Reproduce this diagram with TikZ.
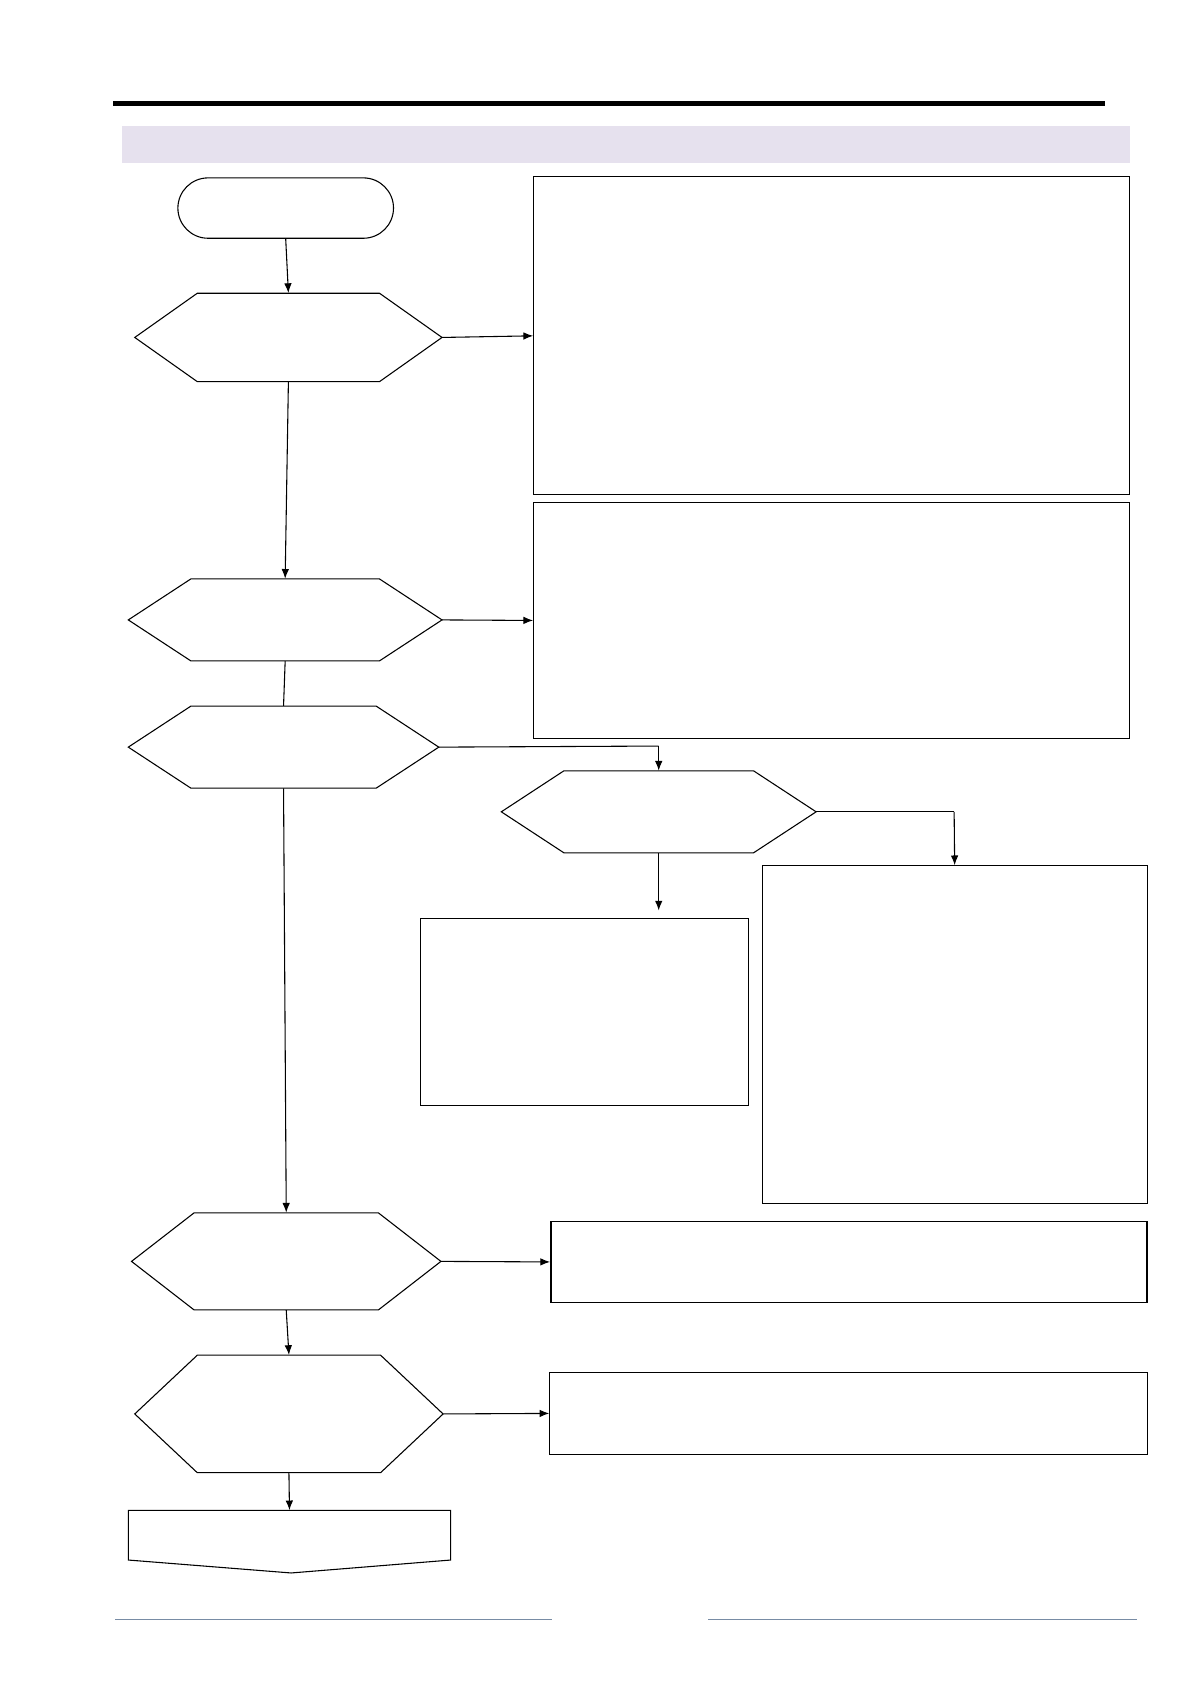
\documentclass[tikz,border=0pt]{standalone}
\usetikzlibrary{calc,arrows.meta}
\begin{document}
\begin{tikzpicture}[x=1pt,y=-1pt,
  box/.style={draw,line width=1pt,rectangle,inner sep=0pt},
  hx/.style={draw=none,rectangle,inner sep=0pt},
  arr/.style={line width=1pt,-{Latex[length=9pt,width=7pt]}},
  ln/.style={line width=1pt}]
\useasboundingbox (0,0) rectangle (1104,1562);
\draw[line width=4pt] (105,96) -- (1025,96);
\fill[fill={rgb,255:red,230;green,225;blue,238}] (113,117) rectangle (1048,151);
\node[box,rounded corners=28pt,minimum width=200pt,minimum height=56pt] (start) at (265,193) {};
% hexagon macro
\newcommand{\hexat}[6]{% name, x1, x2, y1, y2, chamfer
  \node[hx,minimum width=#3-#2,minimum height=#5-#4] (#1) at ({(#2+#3)/2},{(#4+#5)/2}) {};
  \draw[ln] (#2,{(#4+#5)/2}) -- ({#2+#6},#4) -- ({#3-#6},#4) -- (#3,{(#4+#5)/2}) -- ({#3-#6},#5) -- ({#2+#6},#5) -- cycle;}
\hexat{h1}{125}{410}{272}{354}{58}
\hexat{h2}{119}{410}{537}{613}{58}
\hexat{h3}{119}{407}{655}{731}{58}
\hexat{h4}{465}{757}{715}{791}{58}
\hexat{h5}{122}{409}{1125}{1215}{58}
\hexat{h6}{125}{411}{1257}{1366}{58}
\node[box,minimum width=553pt,minimum height=295pt] (ba) at (771.5,311.5) {};
\node[box,minimum width=553pt,minimum height=219pt] (bb) at (771.5,575.5) {};
\node[box,minimum width=304pt,minimum height=173pt] (bc) at (542,938.5) {};
\node[box,minimum width=357pt,minimum height=313pt] (bd) at (885.5,959.5) {};
\node[box,line width=1.6pt,minimum width=553pt,minimum height=75pt] (be) at (787.5,1170.5) {};
\node[box,minimum width=554pt,minimum height=76pt] (bf) at (787,1311) {};
\node[hx,minimum width=299pt,minimum height=58pt] (fin) at (268.5,1430) {};
\draw[ln] (119,1401) -- (418,1401) -- (418,1447) -- (270,1459) -- (119,1447) -- cycle;
\coordinate (c1) at (611,692);
\coordinate (c2) at (885,753);
\draw[arr] (start.south) -- (h1.north);
\draw[arr] (h1.east) -- (ba.west);
\draw[arr] (h1.south) -- (h2.north);
\draw[arr] (h2.east) -- (bb.west);
\draw[ln] (h2.south) -- (h3.north);
\draw[ln] (h3.east) -- (c1);
\draw[arr] (c1) -- (h4.north);
\draw[arr] (h4.south) -- ($(bc.north)+(69,-7)$);
\draw[ln] (h4.east) -- (c2);
\draw[arr] (c2) -- (bd.north);
\draw[arr] (h3.south) -- (h5.north);
\draw[arr] (h5.east) -- (be.west);
\draw[arr] (h5.south) -- (h6.north);
\draw[arr] (h6.east) -- (bf.west);
\draw[arr] (h6.south) -- (fin.north);
\draw[line width=0.6pt,color={rgb,255:red,120;green,140;blue,165}] (107,1502) -- (512,1502) (657,1502) -- (1055,1502);
\end{tikzpicture}
\end{document}
